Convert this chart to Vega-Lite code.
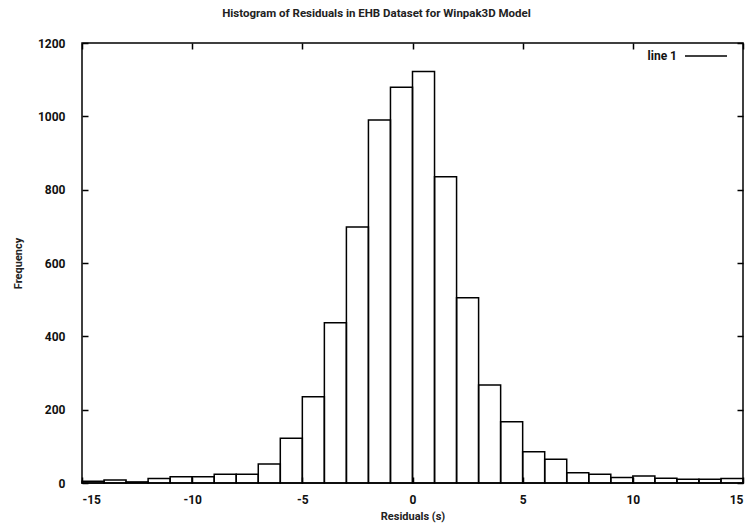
{
  "$schema": "https://vega.github.io/schema/vega-lite/v6.json",
  "width": 661,
  "height": 440,
  "autosize": {"type": "none"},
  "padding": {"left": 82, "top": 43, "right": 9, "bottom": 44},
  "background": "white",
  "title": {
    "text": "Histogram of Residuals in EHB Dataset for Winpak3D Model",
    "font": "Roboto",
    "fontSize": 11.5,
    "fontWeight": "bold",
    "color": "#222",
    "dx": -36,
    "offset": 15
  },
  "config": {
    "view": {"stroke": "black", "strokeWidth": 1.5},
    "axis": {
      "grid": false,
      "domain": false,
      "tickColor": "black",
      "tickSize": -6,
      "tickWidth": 1.5,
      "labelFont": "Roboto",
      "labelFontSize": 12,
      "labelFontWeight": "bold",
      "labelColor": "#111",
      "titleFont": "Roboto",
      "titleFontSize": 11,
      "titleFontWeight": "bold",
      "titleColor": "#222"
    }
  },
  "data": {
    "values": [
      {"bin_start": -15, "bin_end": -14, "count": 5},
      {"bin_start": -14, "bin_end": -13, "count": 8},
      {"bin_start": -13, "bin_end": -12, "count": 3},
      {"bin_start": -12, "bin_end": -11, "count": 12},
      {"bin_start": -11, "bin_end": -10, "count": 17},
      {"bin_start": -10, "bin_end": -9, "count": 17},
      {"bin_start": -9, "bin_end": -8, "count": 24},
      {"bin_start": -8, "bin_end": -7, "count": 24},
      {"bin_start": -7, "bin_end": -6, "count": 52},
      {"bin_start": -6, "bin_end": -5, "count": 122},
      {"bin_start": -5, "bin_end": -4, "count": 235},
      {"bin_start": -4, "bin_end": -3, "count": 437},
      {"bin_start": -3, "bin_end": -2, "count": 698},
      {"bin_start": -2, "bin_end": -1, "count": 990},
      {"bin_start": -1, "bin_end": 0, "count": 1079},
      {"bin_start": 0, "bin_end": 1, "count": 1122},
      {"bin_start": 1, "bin_end": 2, "count": 835},
      {"bin_start": 2, "bin_end": 3, "count": 505},
      {"bin_start": 3, "bin_end": 4, "count": 267},
      {"bin_start": 4, "bin_end": 5, "count": 167},
      {"bin_start": 5, "bin_end": 6, "count": 85},
      {"bin_start": 6, "bin_end": 7, "count": 65},
      {"bin_start": 7, "bin_end": 8, "count": 28},
      {"bin_start": 8, "bin_end": 9, "count": 24},
      {"bin_start": 9, "bin_end": 10, "count": 15},
      {"bin_start": 10, "bin_end": 11, "count": 19},
      {"bin_start": 11, "bin_end": 12, "count": 13},
      {"bin_start": 12, "bin_end": 13, "count": 10},
      {"bin_start": 13, "bin_end": 14, "count": 10},
      {"bin_start": 14, "bin_end": 15, "count": 12}
    ]
  },
  "layer": [
    {
      "mark": {"type": "bar", "filled": false, "strokeWidth": 1.5},
      "encoding": {
        "x": {
          "field": "bin_start",
          "type": "quantitative",
          "scale": {"domain": [-15, 15], "nice": false},
          "axis": {"values": [-15, -10, -5, 0, 5, 10, 15], "labelExpr": "'' + datum.value", "title": "Residuals (s)", "labelPadding": 17, "titlePadding": 5}
        },
        "x2": {"field": "bin_end"},
        "y": {
          "field": "count",
          "type": "quantitative",
          "scale": {"domain": [0, 1200], "nice": false},
          "axis": {"values": [0, 200, 400, 600, 800, 1000, 1200], "labelExpr": "'' + datum.value", "title": "Frequency", "labelPadding": 23, "titlePadding": 14}
        },
        "y2": {"datum": 0},
        "color": {
          "datum": "line 1",
          "scale": {"range": ["black"]},
          "legend": {
            "orient": "none",
            "legendX": 602,
            "legendY": -9,
            "title": null,
            "symbolType": "stroke",
            "symbolSize": 1764,
            "symbolStrokeWidth": 1.3,
            "labelAlign": "right",
            "labelOffset": -51,
            "labelFont": "Roboto",
            "labelFontSize": 12,
            "labelFontWeight": "bold",
            "labelColor": "#111"
          }
        }
      }
    },
    {
      "mark": {"type": "bar", "opacity": 0},
      "encoding": {
        "x": {
          "field": "bin_start",
          "type": "quantitative",
          "scale": {"domain": [-15, 15], "nice": false},
          "axis": {"orient": "top", "values": [-15, -10, -5, 0, 5, 10, 15], "labels": false, "title": null}
        },
        "x2": {"field": "bin_end"},
        "y": {
          "field": "count",
          "type": "quantitative",
          "scale": {"domain": [0, 1200], "nice": false},
          "axis": {"orient": "right", "values": [0, 200, 400, 600, 800, 1000, 1200], "labels": false, "title": null}
        },
        "y2": {"datum": 0}
      }
    }
  ],
  "resolve": {"axis": {"x": "independent", "y": "independent"}}
}
